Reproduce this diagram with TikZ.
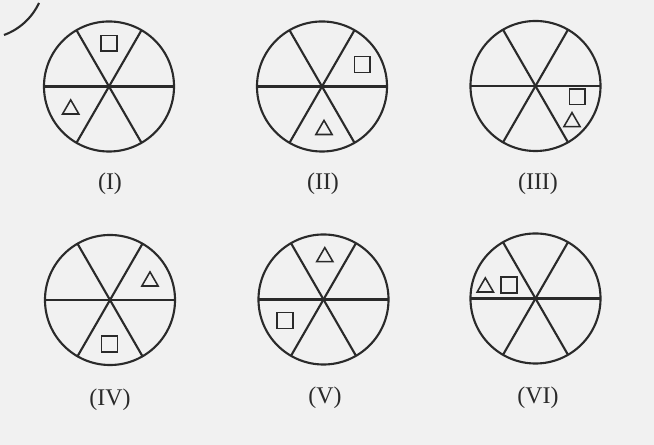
\documentclass[tikz,border=0pt]{standalone}
\usepackage{fontspec}
\setmainfont{Liberation Serif}
\usetikzlibrary{shapes.geometric}
\definecolor{ink}{HTML}{2A2A2A}
\definecolor{paper}{HTML}{F1F1F1}
\tikzset{
  wheel/.style={circle, draw=ink, line width=1.5pt, minimum size=3.25cm, inner sep=0pt, outer sep=0pt},
  spoke/.style={ink, line width=1.5pt},
  sq/.style={rectangle, draw=ink, line width=1.1pt, minimum size=0.39cm, inner sep=0pt},
  tri/.style={regular polygon, regular polygon sides=3, draw=ink, line width=1.1pt, minimum size=0.47cm, inner sep=0pt},
  lbl/.style={font=\fontsize{17}{19}\selectfont, text=ink}
}
\begin{document}
\begin{tikzpicture}[x=0.025cm, y=-0.025cm]
\fill[paper] (0,0) rectangle (654,445);
\useasboundingbox (0,0) rectangle (654,445);
% edge of a figure cut off by the scan
\draw[spoke] (4,35) arc[start angle=70, end angle=25, radius=62];

\node[wheel] (c1) at (109,86.5) {};
\node[wheel] (c2) at (322,86.5) {};
\node[wheel] (c3) at (535.5,86) {};
\node[wheel] (c4) at (110,300) {};
\node[wheel] (c5) at (323.5,299.5) {};
\node[wheel] (c6) at (535.5,298.5) {};

\foreach \c in {c1,c2,c3,c4,c5,c6} {
  \draw[spoke] (\c.0) -- (\c.180);
  \draw[spoke] (\c.60) -- (\c.240);
  \draw[spoke] (\c.120) -- (\c.300);
}

% symbols
\node[sq] (s1) at (109,43.3) {};
\node[tri] (t1) at (70.7,109.3) {};
\node[sq] (s2) at (362.3,64.5) {};
\node[tri] (t2) at (324,129.8) {};
\node[sq] (s3) at (577.3,96.8) {};
\node[tri] (t3) at (572,122) {};
\node[tri] (t4) at (150,281.3) {};
\node[sq] (s4) at (109.5,344) {};
\node[tri] (t5) at (324.8,257) {};
\node[sq] (s5) at (285,320.5) {};
\node[tri] (t6) at (485.3,287.3) {};
\node[sq] (s6) at (509,285) {};

% labels
\node[lbl] (l1) at (110,184) {(I)};
\node[lbl] (l2) at (323,184) {(II)};
\node[lbl] (l3) at (538,184) {(III)};
\node[lbl] (l4) at (110,400) {(IV)};
\node[lbl] (l5) at (325,398) {(V)};
\node[lbl] (l6) at (538,398) {(VI)};
\end{tikzpicture}
\end{document}
